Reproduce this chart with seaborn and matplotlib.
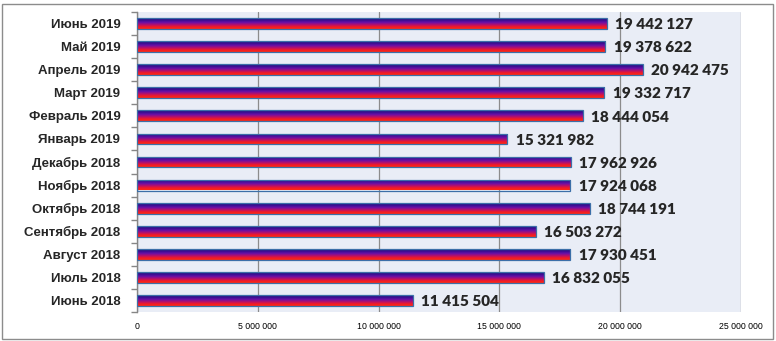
import matplotlib
matplotlib.use("Agg")
import matplotlib.pyplot as plt
import seaborn as sns
import numpy as np
import pandas as pd
from matplotlib.colors import LinearSegmentedColormap
from matplotlib.ticker import FuncFormatter, FixedLocator

categories = ["Июнь 2019", "Май 2019", "Апрель 2019", "Март 2019", "Февраль 2019",
              "Январь 2019", "Декабрь 2018", "Ноябрь 2018", "Октябрь 2018",
              "Сентябрь 2018", "Август 2018", "Июль 2018", "Июнь 2018"]
values = [19442127, 19378622, 20942475, 19332717, 18444054, 15321982, 17962926,
          17924068, 18744191, 16503272, 17930451, 16832055, 11415504]
x_ticks = [0, 5000000, 10000000, 15000000, 20000000, 25000000]

df = pd.DataFrame({"month": categories, "value": values})

sns.set_theme(style="white")
plt.rcParams["font.family"] = ["Liberation Sans", "DejaVu Sans"]

fig = plt.figure(figsize=(7.76, 3.41), dpi=100)
ax = fig.add_axes([137/776, 1-312/341, (741-137)/776, (312-12)/341])
ax.set_facecolor("#E9EDF6")

sns.barplot(data=df, x="value", y="month", orient="h", ax=ax, width=0.47,
            color="#5a1aa0", edgecolor="#3C6FA8", linewidth=0.9, zorder=3)

cmap = LinearSegmentedColormap.from_list(
    "g", ["#1C1C7A", "#3A0E92", "#6A10A8", "#B01070", "#F01A2A", "#FF2A10"])
grad = np.linspace(0, 1, 64).reshape(-1, 1)
for p in ax.patches:
    x0, y0 = p.get_x(), p.get_y()
    w, h = p.get_width(), p.get_height()
    im = ax.imshow(grad, cmap=cmap, aspect="auto",
                   extent=[x0, x0 + w, y0 + h, y0], origin="upper", zorder=3.5,
                   interpolation="bilinear")
    im.set_clip_path(p)
    p.set_facecolor("none")
    p.set_zorder(4)

ax.set_xlim(0, 25000000)
ax.set_ylim(len(categories) - 0.5, -0.5)
ax.xaxis.set_major_locator(FixedLocator(x_ticks))
ax.xaxis.set_major_formatter(FuncFormatter(lambda v, _: f"{int(v):,}".replace(",", " ")))
ax.grid(axis="x", color="#8C8C8C", linewidth=0.9, zorder=0)
ax.grid(axis="y", visible=False)
ax.set_axisbelow(True)
ax.set_xlabel("")
ax.set_ylabel("")

for s in ["top", "right", "bottom"]:
    ax.spines[s].set_visible(False)
ax.spines["left"].set_color("#868686")
ax.spines["left"].set_linewidth(1.0)

ax.tick_params(axis="x", length=0, labelsize=6.3, pad=7, colors="black")
ax.tick_params(axis="y", which="major", length=0, pad=12)
for t in ax.get_yticklabels():
    t.set_fontweight("bold")
    t.set_fontsize(9.5)
ax.set_yticks(np.arange(len(categories) + 1) - 0.5, minor=True)
ax.tick_params(axis="y", which="minor", left=True, length=4, color="#868686",
               width=1.0, direction="out")

for i, v in enumerate(values):
    ax.text(v + 350000, i + 0.05, f"{v:,}".replace(",", " "), va="center", ha="left",
            fontsize=11, fontweight="heavy", family=["Lato", "DejaVu Sans"],
            zorder=6)

border = plt.Rectangle((2/776, 2/341), 771/776, 335/341, transform=fig.transFigure,
                       fill=False, edgecolor="#8C8C8C", linewidth=1.0)
fig.patches.append(border)

fig.savefig("out.png", dpi=100)
